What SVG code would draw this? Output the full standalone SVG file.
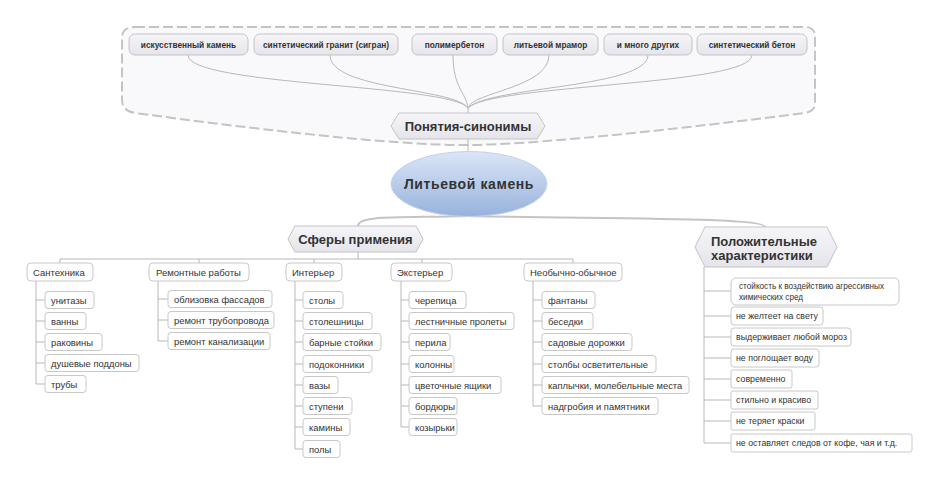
<svg xmlns="http://www.w3.org/2000/svg" width="939" height="484" viewBox="0 0 939 484">
<defs>
<linearGradient id="gHex" x1="0" y1="0" x2="0" y2="1"><stop offset="0" stop-color="#f6f6f9"/><stop offset="1" stop-color="#e4e4ea"/></linearGradient>
<linearGradient id="gEll" x1="0" y1="0" x2="0" y2="1"><stop offset="0" stop-color="#dbe6f7"/><stop offset="1" stop-color="#97b2dc"/></linearGradient>
<style>
.t{font-family:"Liberation Sans",Arial,sans-serif;fill:#333}
.syn{font-size:8.3px;font-weight:bold;text-anchor:middle}
.big{font-size:13px;font-weight:bold}
.l1{font-size:9.5px}
.it{font-size:9.4px}
.pos{font-size:8.8px}
.sn{fill:url(#gHex);stroke:#c2c2ca;stroke-width:1}
.hx{fill:url(#gHex);stroke:#c2c2ca;stroke-width:1}
.bx{fill:#fff;stroke:#c8c8c8;stroke-width:1}
.c{fill:none;stroke:#b8b8b8;stroke-width:1}
.c2{fill:none;stroke:#c4c4c4;stroke-width:2}
</style>
</defs>
<rect width="939" height="484" fill="#fff"/>
<path d="M135,27 H805 Q815,27 815,37 V104 Q815,111 805,113 Q560,144 470,145 Q380,146 135,113 Q122,111 122,100 V38 Q122,27 135,27 Z" fill="#f9f9fb" stroke="#c4c4c4" stroke-width="2" stroke-dasharray="10,4"/>
<g id="connectors">
<path class="c" d="M188,55 C188,86 450,84 468,108"/>
<path class="c" d="M330,55 C330,90 455,88 468,108"/>
<path class="c" d="M453,55 C453,88 466,92 468,108"/>
<path class="c" d="M549,55 C549,88 472,92 468,108"/>
<path class="c" d="M648,55 C648,88 490,86 468,108"/>
<path class="c" d="M752,55 C752,86 490,84 468,108"/>
<path class="c" d="M468,108 V113 M468,139 V152"/>
<path class="c2" d="M468,216 C400,218 358,215 358,226"/>
<path class="c2" d="M468,216 C600,219 765,217 765,227"/>
<path class="c" d="M358,252 V259 M60,263 V259 H573 V263 M199,259 V263 M314,259 V263 M422,259 V263"/>
<path class="c" d="M36,281 V384 M36,300 H45 M36,321 H45 M36,342 H45 M36,363 H45 M36,384 H45"/>
<path class="c" d="M158,281 V341 M158,299 H168 M158,320 H168 M158,341 H168"/>
<path class="c" d="M295,281 V449 M295,300 H303 M295,321 H303 M295,342 H303 M295,364 H303 M295,385 H303 M295,406 H303 M295,427 H303 M295,449 H303"/>
<path class="c" d="M401,281 V427 M401,300 H409 M401,321 H409 M401,342 H409 M401,364 H409 M401,385 H409 M401,406 H409 M401,427 H409"/>
<path class="c" d="M533,281 V406 M533,300 H542 M533,321 H542 M533,342 H542 M533,364 H542 M533,385 H542 M533,406 H542"/>
<path class="c" d="M704,267 V443 M704,291 H731 M704,316 H731 M704,337 H731 M704,358 H731 M704,379 H731 M704,400 H731 M704,421 H731 M704,443 H731"/>
</g>
<g id="syn1"><rect class="sn" x="129" y="34" width="119" height="21" rx="6"/><text class="t syn" x="188.5" y="47.5">искусственный камень</text></g>
<g id="syn2"><rect class="sn" x="254" y="34" width="144" height="21" rx="6"/><text class="t syn" x="326" y="47.5">синтетический гранит (сигран)</text></g>
<g id="syn3"><rect class="sn" x="412" y="34" width="85" height="21" rx="6"/><text class="t syn" x="454.5" y="47.5">полимербетон</text></g>
<g id="syn4"><rect class="sn" x="503" y="34" width="95" height="21" rx="6"/><text class="t syn" x="550.5" y="47.5">литьевой мрамор</text></g>
<g id="syn5"><rect class="sn" x="604" y="34" width="88" height="21" rx="6"/><text class="t syn" x="648" y="47.5">и много других</text></g>
<g id="syn6"><rect class="sn" x="697" y="34" width="110" height="21" rx="6"/><text class="t syn" x="752" y="47.5">синтетический бетон</text></g>
<g id="synonyms"><path class="hx" d="M399,113 H537 L545,126 L537,139 H399 L391,126 Z"/><text class="t big" x="468" y="130.5" text-anchor="middle">Понятия-синонимы</text></g>
<g id="root"><ellipse cx="469" cy="184" rx="78" ry="32.5" fill="url(#gEll)" stroke="#c2d2ea" stroke-width="1"/><text class="t" x="469" y="189" text-anchor="middle" font-size="14" font-weight="bold" letter-spacing="0.6">Литьевой камень</text></g>
<g id="spheres"><path class="hx" d="M295,226 H416 L423,239 L416,252 H295 L288,239 Z"/><text class="t big" x="355.5" y="243.5" text-anchor="middle">Сферы примения</text></g>
<g id="positive"><path class="hx" d="M705,227 H827 L837,247 L827,267 H705 L695,247 Z"/><text class="t big" x="711" y="245.5">Положительные</text><text class="t big" x="711" y="259.5">характеристики</text></g>

<g id="santeh"><rect class="bx" x="27" y="263" width="66" height="18" rx="4"/><text class="t l1" x="33" y="275.5">Сантехника</text></g>
<g id="s1"><rect class="bx" x="45" y="291.5" width="49" height="17" rx="3"/><text class="t it" x="51" y="303.5">унитазы</text></g>
<g id="s2"><rect class="bx" x="45" y="312.5" width="41" height="17" rx="3"/><text class="t it" x="51" y="324.5">ванны</text></g>
<g id="s3"><rect class="bx" x="45" y="333.5" width="57" height="17" rx="3"/><text class="t it" x="51" y="345.5">раковины</text></g>
<g id="s4"><rect class="bx" x="45" y="354.5" width="94" height="17" rx="3"/><text class="t it" x="51" y="366.5">душевые поддоны</text></g>
<g id="s5"><rect class="bx" x="45" y="375.5" width="41" height="17" rx="3"/><text class="t it" x="51" y="387.5">трубы</text></g>

<g id="remont"><rect class="bx" x="149" y="263" width="100" height="18" rx="4"/><text class="t l1" x="156" y="275.5">Ремонтные работы</text></g>
<g id="r1"><rect class="bx" x="168" y="290.5" width="104" height="17" rx="3"/><text class="t it" x="174" y="302.5">облизовка фассадов</text></g>
<g id="r2"><rect class="bx" x="168" y="311.5" width="106" height="17" rx="3"/><text class="t it" x="174" y="323.5">ремонт трубопровода</text></g>
<g id="r3"><rect class="bx" x="168" y="332.5" width="102" height="17" rx="3"/><text class="t it" x="174" y="344.5">ремонт канализации</text></g>

<g id="inter"><rect class="bx" x="286" y="263" width="56" height="18" rx="4"/><text class="t l1" x="292" y="275.5">Интерьер</text></g>
<g id="i1"><rect class="bx" x="303" y="291.5" width="40" height="17" rx="3"/><text class="t it" x="309" y="303.5">столы</text></g>
<g id="i2"><rect class="bx" x="303" y="312.5" width="69" height="17" rx="3"/><text class="t it" x="309" y="324.5">столешницы</text></g>
<g id="i3"><rect class="bx" x="303" y="333.5" width="78" height="17" rx="3"/><text class="t it" x="309" y="345.5">барные стойки</text></g>
<g id="i4"><rect class="bx" x="303" y="355.5" width="69" height="17" rx="3"/><text class="t it" x="309" y="367.5">подоконники</text></g>
<g id="i5"><rect class="bx" x="303" y="376.5" width="35" height="17" rx="3"/><text class="t it" x="309" y="388.5">вазы</text></g>
<g id="i6"><rect class="bx" x="303" y="397.5" width="49" height="17" rx="3"/><text class="t it" x="309" y="409.5">ступени</text></g>
<g id="i7"><rect class="bx" x="303" y="418.5" width="47" height="17" rx="3"/><text class="t it" x="309" y="430.5">камины</text></g>
<g id="i8"><rect class="bx" x="303" y="440.5" width="37" height="17" rx="3"/><text class="t it" x="309" y="452.5">полы</text></g>

<g id="exter"><rect class="bx" x="391" y="263" width="61" height="18" rx="4"/><text class="t l1" x="397" y="275.5">Экстерьер</text></g>
<g id="e1"><rect class="bx" x="409" y="291.5" width="57" height="17" rx="3"/><text class="t it" x="415" y="303.5">черепица</text></g>
<g id="e2"><rect class="bx" x="409" y="312.5" width="105" height="17" rx="3"/><text class="t it" x="415" y="324.5">лестничные пролеты</text></g>
<g id="e3"><rect class="bx" x="409" y="333.5" width="41" height="17" rx="3"/><text class="t it" x="415" y="345.5">перила</text></g>
<g id="e4"><rect class="bx" x="409" y="355.5" width="45" height="17" rx="3"/><text class="t it" x="415" y="367.5">колонны</text></g>
<g id="e5"><rect class="bx" x="409" y="376.5" width="92" height="17" rx="3"/><text class="t it" x="415" y="388.5">цветочные ящики</text></g>
<g id="e6"><rect class="bx" x="409" y="397.5" width="48" height="17" rx="3"/><text class="t it" x="415" y="409.5">бордюры</text></g>
<g id="e7"><rect class="bx" x="409" y="418.5" width="48" height="17" rx="3"/><text class="t it" x="415" y="430.5">козырьки</text></g>

<g id="unusual"><rect class="bx" x="524" y="263" width="98" height="18" rx="4"/><text class="t l1" x="530" y="275.5">Необычно-обычное</text></g>
<g id="u1"><rect class="bx" x="542" y="291.5" width="53" height="17" rx="3"/><text class="t it" x="548" y="303.5">фантаны</text></g>
<g id="u2"><rect class="bx" x="542" y="312.5" width="51" height="17" rx="3"/><text class="t it" x="548" y="324.5">беседки</text></g>
<g id="u3"><rect class="bx" x="542" y="333.5" width="90" height="17" rx="3"/><text class="t it" x="548" y="345.5">садовые дорожки</text></g>
<g id="u4"><rect class="bx" x="542" y="355.5" width="114" height="17" rx="3"/><text class="t it" x="548" y="367.5">столбы осветительные</text></g>
<g id="u5"><rect class="bx" x="542" y="376.5" width="147" height="17" rx="3"/><text class="t it" x="548" y="388.5">каплычки, молебельные места</text></g>
<g id="u6"><rect class="bx" x="542" y="397.5" width="116" height="17" rx="3"/><text class="t it" x="548" y="409.5">надгробия и памятники</text></g>

<g id="p1"><rect class="bx" x="731" y="278" width="168" height="27" rx="5"/><text class="t" x="739" y="289" font-size="8.2">стойкость к воздействию агрессивных</text><text class="t" x="739" y="300" font-size="8.2">химических сред</text></g>
<g id="p2"><rect class="bx" x="731" y="307" width="92" height="18" rx="3"/><text class="t pos" x="736" y="319">не желтеет на свету</text></g>
<g id="p3"><rect class="bx" x="731" y="328" width="120" height="18" rx="3"/><text class="t pos" x="736" y="340">выдерживает любой мороз</text></g>
<g id="p4"><rect class="bx" x="731" y="349" width="88" height="18" rx="3"/><text class="t pos" x="736" y="361">не поглощает воду</text></g>
<g id="p5"><rect class="bx" x="731" y="370" width="61" height="18" rx="2"/><text class="t pos" x="736" y="382">современно</text></g>
<g id="p6"><rect class="bx" x="731" y="391" width="87" height="18" rx="2"/><text class="t pos" x="736" y="403">стильно и красиво</text></g>
<g id="p7"><rect class="bx" x="731" y="412" width="84" height="18" rx="2"/><text class="t pos" x="736" y="424">не теряет краски</text></g>
<g id="p8"><rect class="bx" x="731" y="434" width="181" height="18" rx="2"/><text class="t pos" x="736" y="446">не оставляет следов от кофе, чая и т.д.</text></g>
</svg>
